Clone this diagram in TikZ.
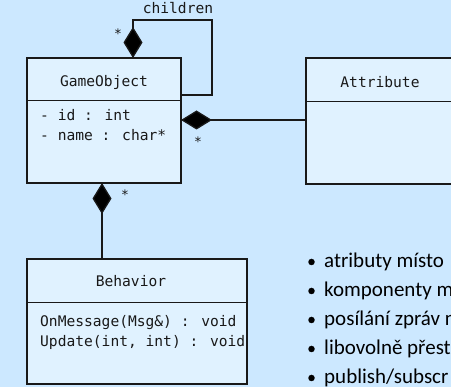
\documentclass[tikz,border=0pt]{standalone}
\usepackage{fontspec}
\setmainfont{Carlito}
\newfontfamily\monof{DejaVu Sans Mono}
\usetikzlibrary{arrows.meta}
\definecolor{bg}{RGB}{204,232,255}
\definecolor{boxfill}{RGB}{224,242,255}
\definecolor{ink}{RGB}{25,25,25}
\tikzset{
  classbox/.style={draw=ink, line width=1.5pt, fill=boxfill, anchor=north west, inner sep=0pt, outer sep=0pt},
  divider/.style={draw=ink, line width=1pt},
  mono/.style={font=\monof\fontsize{14.6}{17}\selectfont, text=ink, inner sep=0pt, anchor=base west},
  monoc/.style={font=\monof\fontsize{14.6}{17}\selectfont, text=ink, inner sep=0pt, anchor=base},
  star/.style={font=\monof\fontsize{13}{15}\selectfont, text=ink, inner sep=0pt},
  comp/.style={draw=ink, line width=1.3pt, {Diamond[length=31pt,width=19pt,fill=black]}-},
  bul/.style={font=\fontsize{21}{25}\selectfont, text=black, inner sep=0pt, anchor=base west},
  dot/.style={fill=black, circle, inner sep=0pt, minimum size=6.5pt}
}
\begin{document}
\begin{tikzpicture}[x=1pt, y=-1pt]
\useasboundingbox (0,0) rectangle (451,387);
\clip (0,0) rectangle (451,387);
\fill[bg] (0,0) rectangle (451,387);

% GameObject
\node[classbox, minimum width=154pt, minimum height=125pt] (GO) at (27,58) {};
\draw[divider] (27,101) -- (181,101);
\node[monoc] (GOt) at (104,87) {GameObject};
\node[mono] (GOa1) at (40,121) {- id : int};
\node[mono] (GOa2) at (40,141) {- name : char*};

% Attribute
\node[classbox, minimum width=148pt, minimum height=126pt] (AT) at (306,58) {};
\draw[divider] (306,102) -- (454,102);
\node[monoc] (ATt) at (380,88) {Attribute};

% Behavior
\node[classbox, minimum width=220pt, minimum height=125pt] (BE) at (27,259) {};
\draw[divider] (27,303) -- (247,303);
\node[monoc] (BEt) at (131,287) {Behavior};
\node[mono] (BEm1) at (40,327) {OnMessage(Msg\&) : void};
\node[mono] (BEm2) at (40,347) {Update(int, int) : void};

% children loop
\coordinate (c0) at (133,58);
\coordinate (c1) at (133,20);
\coordinate (c2) at (212,20);
\coordinate (c3) at (212,95);
\coordinate (c4) at (181,95);
\draw[comp] (c0) -- (c1) -- (c2) -- (c3) -- (c4);
\node[monoc] (chl) at (178,14) {children};
\node[star] (s1) at (118,34) {*};

% composition to Attribute
\coordinate (a0) at (181,120);
\coordinate (a1) at (306,120);
\draw[comp] (a0) -- (a1);
\node[star] (s2) at (198,142) {*};

% composition to Behavior
\coordinate (b0) at (102,183);
\coordinate (b1) at (102,259);
\draw[comp] (b0) -- (b1);
\node[star] (s3) at (125,195) {*};

% bullets
\foreach \y/\t [count=\i] in {268/{atributy místo}, 297/{komponenty m}, 326/{posílání zpráv n}, 355/{libovolně přest}, 384/{publish/subscr}}{
  \node[dot] (d\i) at (311.5,\y-6) {};
  \node[bul] (t\i) at (324,\y) {\t};
}
\end{tikzpicture}
\end{document}
